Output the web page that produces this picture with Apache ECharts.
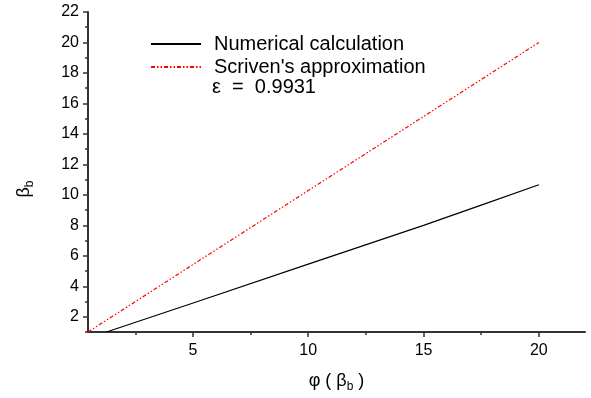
<!DOCTYPE html>
<html><head><meta charset="utf-8">
<script src="https://cdn.jsdelivr.net/npm/echarts@6/dist/echarts.min.js"></script>
<style>html,body{margin:0;padding:0;background:#fff}#c{width:591px;height:398px}</style>
</head><body><div id="c"></div>
<script>
const numX = [1.25, 5.3, 10, 15, 17.5, 20];
const numY = [1, 3.05, 5.45, 8.0, 9.33, 10.66];
const scrX = [0.45, 20];
const scrY = [1, 20];
const xMajor = [5, 10, 15, 20];
const xMinor = [2.5, 7.5, 12.5, 17.5];
const yMajor = [2, 4, 6, 8, 10, 12, 14, 16, 18, 20, 22];
const yMinor = [1, 3, 5, 7, 9, 11, 13, 15, 17, 19, 21];
const names = ['Numerical calculation', "Scriven's approximation"];
const note = 'ε  =  0.9931';

const font = 'Liberation Sans, Arial, sans-serif';
const axisCol = '#333';
const chart = echarts.init(document.getElementById('c'));
const xBase = {type:'value', min:0.45, max:22, splitLine:{show:false}};
const yBase = {type:'value', min:1, max:22, splitLine:{show:false}};
chart.setOption({
  animation:false,
  grid:{left:88, top:12, right:6, bottom:64},
  legend:{
    orient:'vertical', left:145, top:29, itemWidth:50, itemHeight:14, itemGap:3,
    data:names,
    itemStyle:{opacity:0},
    textStyle:{fontFamily:font, fontSize:20, color:'#000', lineHeight:20, padding:[0,0,0,8]}
  },
  graphic:[{type:'text', left:212, top:77, style:{text:note, fontFamily:font, fontSize:20, fill:'#000'}}],
  xAxis:[
    Object.assign({}, xBase, {
      position:'bottom',
      name:'{a|φ ( β}{s|b}{a| )}', nameLocation:'middle', nameGap:38,
      nameTextStyle:{rich:{a:{fontFamily:font, fontSize:18, color:'#000'}, s:{fontFamily:font, fontSize:12, color:'#000', padding:[11,0,0,0]}}},
      axisLine:{show:true, lineStyle:{color:axisCol, width:2}},
      axisTick:{show:true, customValues:xMajor, length:5, lineStyle:{color:axisCol, width:1.5}},
      axisLabel:{customValues:xMajor, fontFamily:font, fontSize:16, color:'#000', margin:11}
    }),
    Object.assign({}, xBase, {
      position:'bottom',
      axisLine:{show:false},
      axisTick:{show:true, customValues:xMinor, length:3, lineStyle:{color:axisCol, width:1.5}},
      axisLabel:{show:false}
    })
  ],
  yAxis:[
    Object.assign({}, yBase, {
      position:'left',
      name:'{a|β}{s|b}', nameLocation:'middle', nameGap:52, nameRotate:90,
      nameTextStyle:{padding:[0,34,0,0], rich:{a:{fontFamily:font, fontSize:18, color:'#000'}, s:{fontFamily:font, fontSize:12, color:'#000', padding:[11,0,0,0]}}},
      axisLine:{show:true, lineStyle:{color:axisCol, width:2}},
      axisTick:{show:true, customValues:yMajor, length:5, lineStyle:{color:axisCol, width:1.5}},
      axisLabel:{customValues:yMajor, fontFamily:font, fontSize:16, color:'#000', margin:9}
    }),
    Object.assign({}, yBase, {
      position:'left',
      axisLine:{show:false},
      axisTick:{show:true, customValues:yMinor, length:3, lineStyle:{color:axisCol, width:1.5}},
      axisLabel:{show:false}
    })
  ],
  series:[
    {name:names[0], type:'line', symbol:'none', data:numX.map((x,i)=>[x,numY[i]]),
     lineStyle:{color:'#000', width:1.2}, itemStyle:{color:'#000'}},
    {name:names[1], type:'line', symbol:'none', data:scrX.map((x,i)=>[x,scrY[i]]),
     lineStyle:{color:'#ff0000', width:1.2, type:[4,2,1.5,2,1.5,2]}, itemStyle:{color:'#ff0000'}}
  ]
});
</script></body></html>
